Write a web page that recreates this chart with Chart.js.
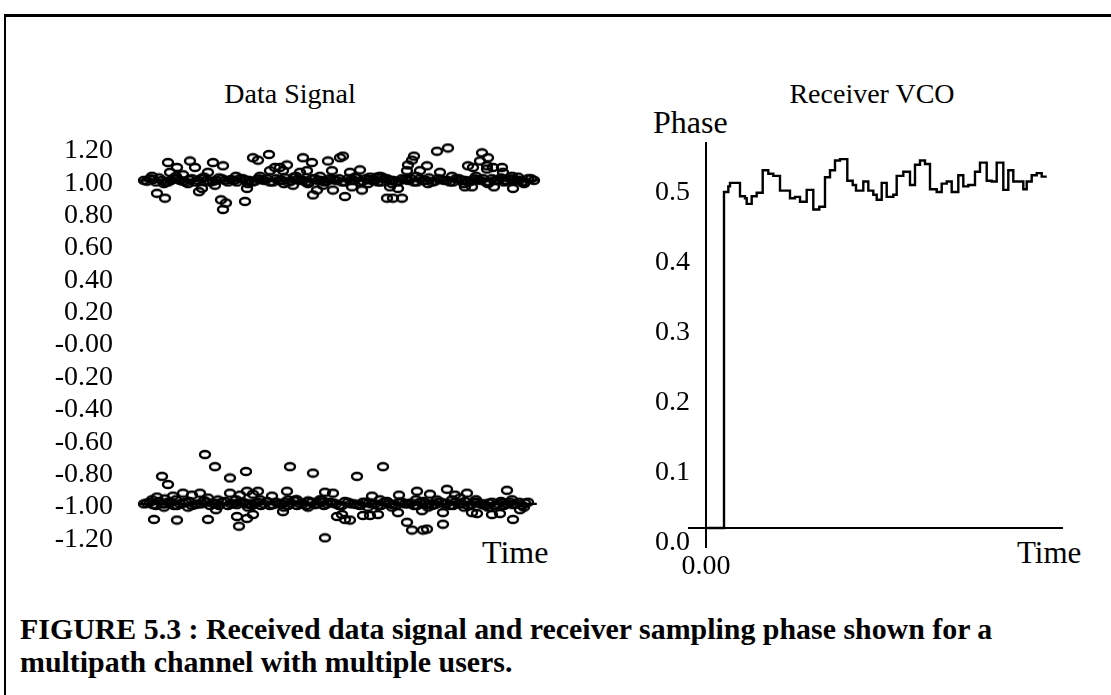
<!DOCTYPE html>
<html><head><meta charset="utf-8">
<script src="https://cdn.jsdelivr.net/npm/chart.js@4/dist/chart.umd.min.js"></script>
<style>
html,body{margin:0;padding:0;background:#fff;}
body{width:1111px;height:695px;position:relative;overflow:hidden;font-family:"Liberation Serif","DejaVu Serif",serif;color:#000;}
#frame{position:absolute;left:4px;top:14px;width:1120px;height:700px;border-top:3px solid #000;border-left:2px solid #000;}
.t{position:absolute;white-space:nowrap;font-size:28px;line-height:28px;}
.c{transform:translateX(-50%);}
.big{font-size:31px;line-height:31px;}
.cap{position:absolute;left:20px;white-space:nowrap;font-size:29.9px;line-height:30px;font-weight:bold;}
canvas{position:absolute;}
</style></head>
<body>
<div id="frame"></div>
<div class="t c" style="left:290px;top:80px;">Data Signal</div>
<div class="t c" style="left:872px;top:80px;">Receiver VCO</div>
<div class="t big" style="left:653px;top:107px;font-size:32px;">Phase</div>
<div class="t big" style="left:482px;top:537px;font-size:32px;">Time</div>
<div class="t big" style="left:1017px;top:537px;">Time</div>
<div class="cap" style="top:614px;">FIGURE 5.3 : Received data signal and receiver sampling phase shown for a</div>
<div class="cap" style="top:647px;">multipath channel with multiple users.</div>
<canvas id="left" width="560" height="480" style="left:0;top:100px;width:560px;height:480px;"></canvas>
<canvas id="right" width="511" height="500" style="left:600px;top:100px;width:511px;height:500px;"></canvas>
<script>
// ---------- Data Signal (left) ----------
const refLevels = [1.0, -1.0];
const refLineEnd = [100, 99.2];
const dataTicks = [-1.2, -1.0, -0.8, -0.6, -0.4, -0.2, 0, 0.2, 0.4, 0.6, 0.8, 1.0, 1.2];

// upper (+1) symbol samples: time and value
const upperTime = [
  34.5, 32.25, 28.25, 29.5, 7, 9.25, 12.5, 13.75, 18.25, 20.75, 17, 7.5, 10.75,
  4.25, 6.25, 15.5, 14.75, 18.75, 20.25, 21.5, 20.75, 26.25, 26.75,
  32.5, 33.75, 35, 36.75, 35.75, 38.25, 40.75, 43, 40, 41.75, 47, 50, 48, 44.25, 43.25, 45.75, 48.25,
  50.75, 52.5, 55, 53.75, 53, 55.5, 51.25, 57.5, 59.25, 60.5, 62.5, 64.5, 61.75, 63.25, 65.5,
  66.75, 67, 68, 68.5, 70, 71.75, 74.25, 77, 75, 82, 81.25, 83, 85.5, 87, 85, 86.75,
  88.25, 90.5, 90.75, 89.25, 91.25, 88.5, 93.25, 94.5, 83.25, 86.75,
  1, 2.5, 4, 5.5, 7, 8.5, 10, 11.5, 13, 14.5, 16, 17.5, 19, 20.5, 22, 23.5, 25, 26.5, 28, 29.5,
  31, 32.5, 34, 35.5, 37, 38.5, 40, 41.5, 43, 44.5, 46, 47.5, 49, 50.5, 52, 53.5, 55, 56.5, 58, 59.5,
  61, 62.5, 64, 65.5, 67, 68.5, 70, 71.5, 73, 74.5, 76, 77.5, 79, 80.5, 82, 83.5, 85, 86.5, 88, 89.5,
  91, 92.5, 94, 95.5, 97, 98.5,
  1.75, 3.25, 4.75, 6.25, 7.75, 9.25, 10.75, 12.25, 13.75, 15.25, 16.75, 18.25, 19.75, 21.25, 22.75, 24.25,
  25.75, 27.25, 28.75, 30.25, 31.75, 33.25, 34.75, 36.25, 37.75, 39.25, 40.75, 42.25, 43.75, 45.25, 46.75,
  48.25, 49.75, 51.25, 52.75, 54.25, 55.75, 57.25, 58.75, 60.25, 61.75, 63.25, 64.75, 66.25, 67.75, 69.25,
  70.75, 72.25, 73.75, 75.25, 76.75, 78.25, 79.75, 81.25, 82.75, 84.25, 85.75, 87.25, 88.75, 90.25, 91.75,
  93.25, 94.75, 96.25, 97.75,
  3, 6, 9, 12, 24, 27, 30, 36, 39, 42, 45, 57, 60, 63, 69, 72, 78, 81, 84, 87, 93, 96
];
const upperValue = [
  1.26, 1.16, 1.14, 1.125, 1.11, 1.08, 1.12, 1.08, 1.11, 1.09, 1.05, 1.05, 1.035,
  0.92, 0.89, 0.95, 0.93, 0.97, 0.88, 0.86, 0.82, 0.87, 0.95,
  1.06, 1.08, 1.08, 1.095, 1.06, 0.97, 1.14, 1.11, 1.05, 1.06, 1.12, 1.14, 1.06, 0.94, 0.91, 0.97, 0.94,
  1.15, 1.05, 1.065, 1.02, 0.96, 0.94, 0.90, 1.02, 1.02, 1.02, 0.96, 0.95, 0.89, 0.89, 0.89,
  1.06, 1.095, 1.125, 1.15, 1.06, 1.09, 1.18, 1.20, 1.05, 1.09, 0.96, 0.96, 1.17, 1.14, 1.12, 1.09,
  1.08, 1.08, 1.05, 1.00, 1.00, 0.96, 0.95, 1.02, 1.08, 1.07,
  1.00, 1.01, 0.99, 1.00, 0.99, 1.01, 1.00, 0.99, 1.01, 1.00, 1.02, 0.99, 1.00, 1.01, 0.99, 1.00, 1.01, 1.00, 0.99, 1.01,
  1.00, 0.99, 1.01, 1.00, 0.99, 1.02, 1.00, 0.99, 1.01, 1.00, 0.99, 1.01, 1.00, 0.99, 1.01, 1.00, 0.99, 1.01, 1.00, 0.99,
  1.01, 1.00, 0.99, 1.01, 1.00, 0.99, 1.01, 1.00, 0.99, 1.01, 1.00, 0.99, 1.01, 1.00, 0.99, 1.01, 1.00, 0.99, 1.01, 1.00,
  0.99, 1.01, 1.00, 0.99, 1.01, 1.00,
  0.995, 1.005, 1.015, 0.99, 1.0, 1.01, 0.995, 1.005, 0.99, 1.01, 1.0, 0.995, 1.015, 1.0, 1.005, 0.99,
  1.01, 1.0, 0.995, 1.005, 1.01, 0.99, 1.0, 1.015, 0.995, 1.005, 1.0, 0.99, 1.01, 1.0, 0.995,
  1.005, 1.01, 0.99, 1.0, 1.015, 0.995, 1.005, 1.0, 0.99, 1.01, 1.0, 0.995, 1.005, 1.01, 0.99,
  1.0, 1.015, 0.995, 1.005, 1.0, 0.99, 1.01, 1.0, 0.995, 1.005, 1.01, 0.99, 1.0, 1.015, 0.995,
  1.005, 1.0, 0.99, 1.01,
  1.025, 0.98, 1.025, 0.98, 1.025, 0.98, 1.025, 0.98, 1.025, 0.98, 1.025, 0.98, 1.025, 0.98, 1.025, 0.98, 1.025, 0.98, 1.025, 0.98, 1.025, 0.98
];

// lower (-1) symbol samples
const lowerTime = [
  3.5, 9.25, 17, 24.25, 26.75, 28.25, 24.75, 19, 35.75, 46.25, 49.25, 50.5, 52.5, 51.25, 55.75, 57.5, 59.5,
  64.5, 66.75, 68, 70.75, 71.75, 75.75, 70.5, 75.75, 83, 84.25, 88, 90, 93.25, 95,
  4.25, 6.25, 8.25, 10.75, 13, 15, 17, 19.5, 22.5, 25, 26.75, 28.25, 29.5, 33, 36.75, 37, 39.25, 42, 45.5,
  46.25, 48.25, 58, 64.75, 69.25, 72.5, 74.25, 76.75, 78.75, 80, 81.75, 85.75, 90.75, 91.75,
  16.25, 5.5, 7, 18.75, 22.5, 26.5, 37.5, 43.25, 54.25, 60.75,
  1, 2.5, 4, 5.5, 7, 8.5, 10, 11.5, 13, 14.5, 16, 17.5, 19, 20.5, 22, 23.5, 25, 26.5, 28, 29.5,
  31, 32.5, 34, 35.5, 37, 38.5, 40, 41.5, 43, 44.5, 46, 47.5, 49, 50.5, 52, 53.5, 55, 56.5, 58, 59.5,
  61, 62.5, 64, 65.5, 67, 68.5, 70, 71.5, 73, 74.5, 76, 77.5, 79, 80.5, 82, 83.5, 85, 86.5, 88, 89.5,
  91, 92.5, 94, 95.5, 97,
  1.75, 3.25, 4.75, 6.25, 7.75, 9.25, 10.75, 12.25, 13.75, 15.25, 16.75, 18.25, 19.75, 21.25, 22.75, 24.25,
  25.75, 27.25, 28.75, 30.25, 31.75, 33.25, 34.75, 36.25, 37.75, 39.25, 40.75, 42.25, 43.75, 45.25, 46.75,
  48.25, 49.75, 51.25, 52.75, 54.25, 55.75, 57.25, 58.75, 60.25, 61.75, 63.25, 64.75, 66.25, 67.75, 69.25,
  70.75, 72.25, 73.75, 75.25, 76.75, 78.25, 79.75, 81.25, 82.75, 84.25, 85.75, 87.25, 88.75, 90.25, 91.75,
  93.25, 94.75, 96.25,
  3, 6, 9, 12, 24, 27, 30, 36, 39, 42, 45, 57, 60, 63, 69, 72, 78, 81, 84, 87, 93, 96
];
const lowerValue = [
  -1.096, -1.10, -1.096, -1.078, -1.09, -1.066, -1.138, -1.036, -1.048, -1.21, -1.078, -1.066, -1.10, -1.096, -1.072, -1.072, -1.066,
  -1.054, -1.114, -1.162, -1.162, -1.156, -1.126, -1.042, -1.054, -1.054, -1.06, -1.066, -1.06, -1.096, -1.036,
  -0.958, -0.97, -0.952, -0.934, -0.946, -0.934, -0.964, -0.976, -0.934, -0.946, -0.922, -0.94, -0.922, -0.952, -0.922, -0.976, -0.976, -0.982, -0.976,
  -0.928, -0.934, -0.952, -0.946, -0.922, -0.94, -0.976, -0.91, -0.946, -0.964, -0.934, -1.006, -0.994, -0.916,
  -0.695, -0.83, -0.88, -0.77, -0.84, -0.80, -0.77, -0.81, -0.83, -0.77,
  -1.00, -0.99, -1.01, -1.00, -0.99, -1.01, -1.00, -0.99, -1.01, -1.00, -0.98, -1.01, -1.00, -0.99, -1.01, -1.00, -0.99, -1.00, -1.01, -0.99,
  -1.00, -1.01, -0.99, -1.00, -1.01, -0.98, -1.00, -1.01, -0.99, -1.00, -1.01, -0.99, -1.00, -1.01, -0.99, -1.00, -1.01, -0.99, -1.00, -1.01,
  -0.99, -1.00, -1.01, -0.99, -1.00, -1.01, -0.99, -1.00, -1.01, -0.99, -1.00, -1.01, -0.99, -1.00, -1.01, -0.99, -1.00, -1.01, -0.99, -1.00,
  -1.01, -0.99, -1.00, -1.01, -0.99,
  -0.995, -1.005, -0.985, -1.0, -0.99, -1.01, -0.995, -0.985, -1.005, -1.0, -0.99, -0.995, -1.01, -0.985, -1.0, -1.005,
  -0.99, -1.0, -0.995, -1.01, -0.985, -1.005, -1.0, -0.99, -0.995, -1.01, -1.0, -0.985, -1.005, -0.99, -1.0,
  -0.995, -1.01, -0.985, -1.0, -1.005, -0.99, -0.995, -1.0, -1.01, -0.985, -1.005, -0.99, -1.0, -0.995, -1.01,
  -0.985, -1.0, -1.005, -0.99, -0.995, -1.01, -1.0, -0.985, -1.005, -0.99, -1.0, -0.995, -1.01, -0.985, -1.0,
  -1.005, -0.99, -0.995,
  -0.975, -1.02, -0.975, -1.02, -0.975, -1.02, -0.975, -1.02, -0.975, -1.02, -0.975, -1.02, -0.975, -1.02, -0.975, -1.02, -0.975, -1.02, -0.975, -1.02, -0.975, -1.02
];

// ---------- Receiver VCO (right) ----------
const phaseTicks = [0, 0.1, 0.2, 0.3, 0.4, 0.5];
const vcoTime = [0, 1.80, 2.23, 2.40, 3.40, 3.90, 4.07, 4.57, 5.07, 5.67, 6.23, 6.73, 7.40, 8.40, 8.90, 9.40,
  10.07, 10.73, 11.33, 11.90, 12.40, 12.90, 13.40, 14.13, 14.67, 15.00, 15.73, 16.23, 16.73, 17.07, 17.57,
  18.07, 18.73, 19.07, 19.73, 20.40, 20.90, 21.40, 21.90, 22.40, 23.07, 23.57, 24.07, 24.57, 25.23, 25.73,
  26.23, 26.90, 27.40, 28.07, 28.57, 29.07, 29.73, 30.23, 30.73, 31.73, 32.07, 32.57, 33.07, 33.57, 34.07];
const vcoPhase = [0, 0.480, 0.488, 0.493, 0.474, 0.471, 0.463, 0.474, 0.479, 0.511, 0.506, 0.503, 0.482, 0.471, 0.473, 0.466,
  0.483, 0.455, 0.459, 0.501, 0.511, 0.525, 0.527, 0.496, 0.490, 0.482, 0.495, 0.482, 0.476, 0.469, 0.493,
  0.473, 0.476, 0.503, 0.509, 0.490, 0.519, 0.525, 0.520, 0.484, 0.480, 0.492, 0.495, 0.480, 0.504, 0.488,
  0.490, 0.509, 0.522, 0.496, 0.495, 0.522, 0.483, 0.511, 0.495, 0.484, 0.495, 0.504, 0.507, 0.502, 0.502];

// ---------- drawing ----------
const FONT = {family: "'Liberation Serif', 'DejaVu Serif', serif", size: 28};
Chart.defaults.color = '#000';
Chart.defaults.animation = false;

const ell = document.createElement('canvas');
ell.width = 14; ell.height = 11;
(function(){const c = ell.getContext('2d'); c.lineWidth = 2.4; c.strokeStyle = '#000';
 c.beginPath(); c.ellipse(7, 5.5, 5.0, 3.5, 0, 0, 2*Math.PI); c.stroke();})();

const zip = (xs, ys) => xs.map((x, i) => ({x, y: ys[i]}));

new Chart(document.getElementById('left'), {
  type: 'scatter',
  data: {datasets: [
    {type: 'line', data: [{x: 0, y: refLevels[0]}, {x: refLineEnd[0], y: refLevels[0]}], borderColor: '#000', borderWidth: 2.4, pointRadius: 0, clip: false},
    {type: 'line', data: [{x: 0, y: refLevels[1]}, {x: refLineEnd[1], y: refLevels[1]}], borderColor: '#000', borderWidth: 2.4, pointRadius: 0, clip: false},
    {data: zip(upperTime, upperValue), pointStyle: ell, pointRadius: 5, clip: false},
    {data: zip(lowerTime, lowerValue), pointStyle: ell, pointRadius: 5, clip: false}
  ]},
  options: {
    responsive: false, events: [],
    layout: {padding: {top: 48, right: 20, bottom: 30, left: 0}},
    plugins: {legend: {display: false}, tooltip: {enabled: false}},
    scales: {
      x: {type: 'linear', min: 0, max: 100, display: false},
      y: {type: 'linear', min: -1.2, max: 1.2,
        afterFit: s => { s.width = 140; },
        afterBuildTicks: s => { s.ticks = dataTicks.map(v => ({value: v})); },
        grid: {display: false, drawTicks: false}, border: {display: false},
        ticks: {autoSkip: false, font: FONT, padding: 27, labelOffset: 3,
          callback: v => Math.abs(v) < 1e-9 ? '-0.00' : Number(v).toFixed(2)}}
    }
  }
});

new Chart(document.getElementById('right'), {
  type: 'line',
  data: {datasets: [
    {data: zip(vcoTime, vcoPhase), stepped: true, borderColor: '#000', borderWidth: 2.4, pointRadius: 0, fill: false, clip: false}
  ]},
  options: {
    responsive: false, events: [],
    layout: {padding: {top: 43, right: 48, bottom: 13, left: 0}},
    plugins: {legend: {display: false}, tooltip: {enabled: false}},
    scales: {
      x: {type: 'linear', min: 0, max: 35.7,
        afterFit: s => { s.height = 40; },
        afterBuildTicks: s => { s.ticks = [{value: 0}]; },
        grid: {display: false, drawTicks: false}, border: {display: false},
        ticks: {autoSkip: false, font: FONT, padding: 3, maxRotation: 0, callback: () => '0.00'}},
      y: {type: 'linear', min: -0.0271, max: 0.55,
        afterFit: s => { s.width = 106; },
        afterBuildTicks: s => { s.ticks = phaseTicks.map(v => ({value: v})); },
        grid: {display: true, drawOnChartArea: true, drawTicks: true, tickLength: 18, lineWidth: 2,
          color: ctx => (ctx.tick && ctx.tick.value === 0) ? '#000' : 'rgba(0,0,0,0)',
          tickColor: ctx => (ctx.tick && ctx.tick.value === 0) ? '#000' : 'rgba(0,0,0,0)'},
        border: {display: true, color: '#000', width: 2},
        ticks: {autoSkip: false, font: FONT, padding: -2, labelOffset: 15,
          callback: v => Number(v).toFixed(1)}}
    }
  }
});
</script>
</body></html>
